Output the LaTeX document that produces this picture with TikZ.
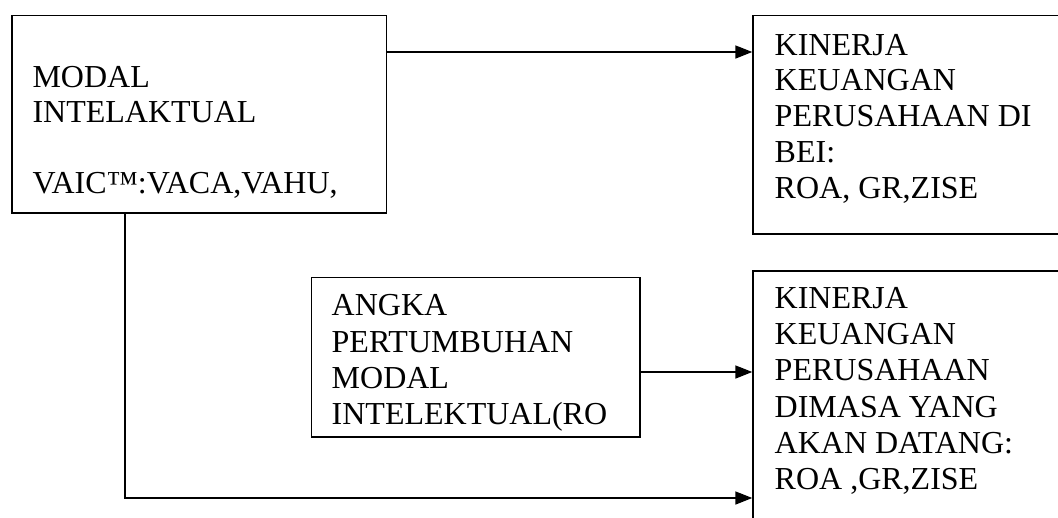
\documentclass[tikz,border=0pt]{standalone}
\usepackage{fontspec}
\setmainfont{Liberation Serif}
\usetikzlibrary{arrows.meta,calc}
\tikzset{
  boxnode/.style={draw, rectangle, line width=1.6pt, inner sep=0pt, anchor=north west},
  txt/.style={anchor=base west, inner sep=0pt, font=\fontsize{32}{36}\selectfont},
  conn/.style={line width=1.6pt, -{Triangle[length=17pt,width=13pt]}}
}
\begin{document}
\begin{tikzpicture}[x=1pt,y=-1pt]
\useasboundingbox (0,0) rectangle (1058,517);
% boxes
\node[boxnode, minimum width=374.7pt, minimum height=197.3pt] (A) at (11,14.7) {};
\node[boxnode, minimum width=312.7pt, minimum height=218.6pt] (B) at (752.3,14.7) {};
\node[boxnode, minimum width=328.8pt, minimum height=159.3pt] (C) at (310.5,276.7) {};
\node[boxnode, minimum width=312.7pt, minimum height=270pt] (D) at (752.3,270) {};
% texts
\node[txt, font=\fontsize{32}{35.3}\selectfont] (At) at (32.3,87.3)
  {\begin{tabular}[t]{@{}l@{}}MODAL\\INTELAKTUAL\\ \\VAIC™:VACA,VAHU,\end{tabular}};
\node[txt, font=\fontsize{32}{35.8}\selectfont] (Bt) at (774.5,55)
  {\begin{tabular}[t]{@{}l@{}}KINERJA\\KEUANGAN\\PERUSAHAAN DI\\BEI:\\ROA, GR,ZISE\end{tabular}};
\node[txt, font=\fontsize{32}{36.4}\selectfont] (Ct) at (331.5,315.7)
  {\begin{tabular}[t]{@{}l@{}}ANGKA\\PERTUMBUHAN\\MODAL\\INTELEKTUAL(RO\end{tabular}};
\node[txt, font=\fontsize{32}{36.3}\selectfont] (Dt) at (774.5,308.3)
  {\begin{tabular}[t]{@{}l@{}}KINERJA\\KEUANGAN\\PERUSAHAAN\\DIMASA YANG\\AKAN DATANG:\\ROA ,GR,ZISE\end{tabular}};
% connectors
\coordinate (a1) at ($(A.north east)+(0,37.3)$);
\draw[conn] (a1) -- (a1 -| B.west);
\coordinate (c1) at ($(C.north east)+(0,95.3)$);
\draw[conn] (c1) -- (c1 -| D.west);
\coordinate (a2) at ($(A.south west)+(114,0)$);
\coordinate (d2) at ($(D.north west)+(0,228)$);
\draw[conn] (a2) |- (d2);
\end{tikzpicture}
\end{document}
